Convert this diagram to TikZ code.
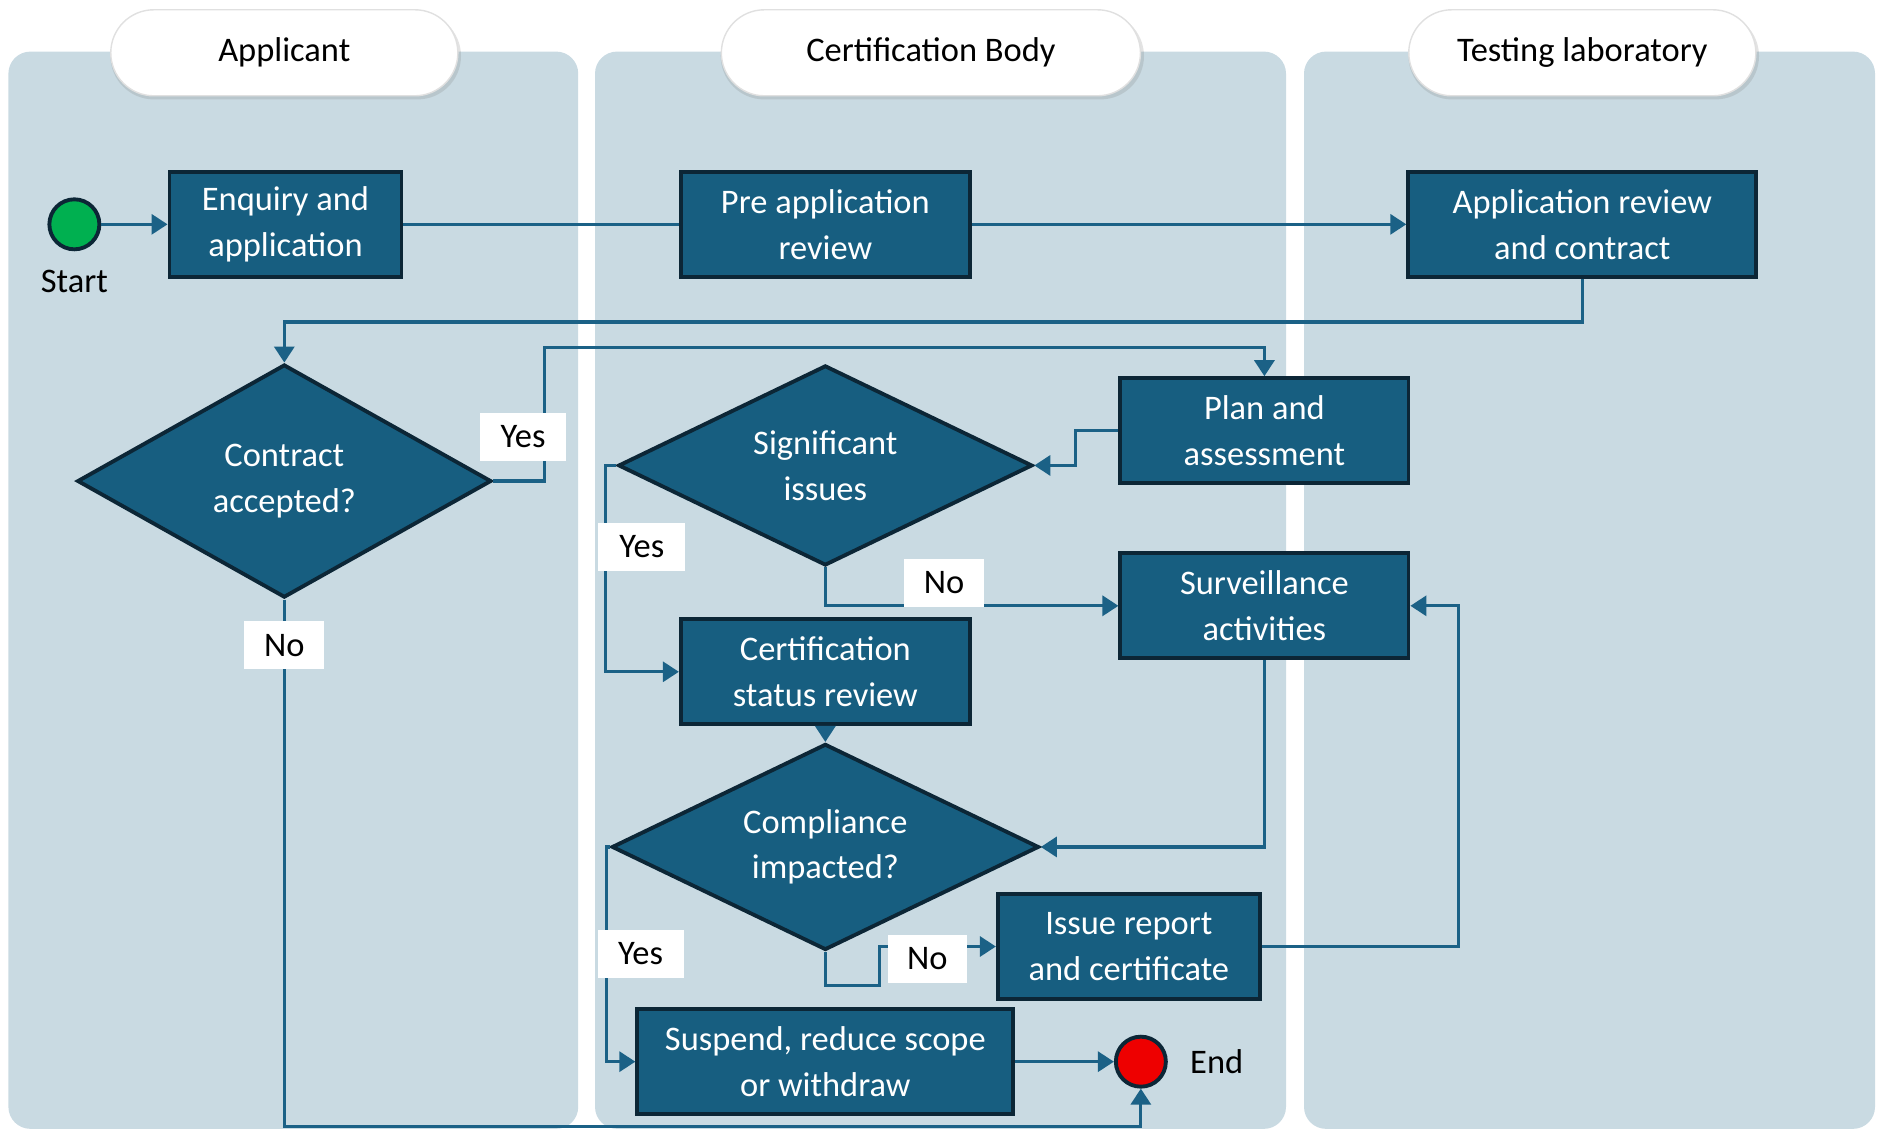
\documentclass[tikz,border=0pt]{standalone}
\usepackage{fontspec}
\setmainfont{Carlito}
\usepackage{tikz}
\usetikzlibrary{positioning,shapes,shadows,arrows.meta}
\definecolor{laneblue}{RGB}{201,218,226}
\definecolor{boxblue}{RGB}{23,94,128}
\definecolor{boxedge}{RGB}{12,38,54}
\definecolor{flowblue}{RGB}{27,97,134}
\definecolor{startgreen}{RGB}{0,176,80}
\definecolor{endred}{RGB}{238,0,0}

\begin{document}
\begin{tikzpicture}[x=0.012cm, y=-0.012cm, node distance=1cm]
	\tikzstyle{lane}=[fill=laneblue, rounded corners=0.22cm]
	\tikzstyle{header}=[rectangle, rounded corners=0.43cm, fill=white, draw=black!12, line width=0.4pt,
	minimum height=0.86cm, drop shadow={opacity=0.22, shadow xshift=0.4pt, shadow yshift=-0.9pt, shadow scale=1.01},
	text=black, font=\fontsize{9.8}{13}\selectfont]
	\tikzstyle{process}=[rectangle, draw=boxedge, line width=1.1pt, fill=boxblue, text=white,
	align=center, minimum height=1.05cm, font=\fontsize{9.8}{13}\selectfont]
	\tikzstyle{decision}=[diamond, aspect=2, draw=boxedge, line width=1.1pt, fill=boxblue, text=white,
	align=center, inner sep=0pt, font=\fontsize{9.8}{13}\selectfont]
	\tikzstyle{answer}=[rectangle, fill=white, text=black, minimum height=0.48cm,
	font=\fontsize{9.8}{13}\selectfont]
	\tikzstyle{terminal}=[circle, draw=boxedge, line width=1.1pt, minimum size=0.5cm, inner sep=0pt]
	\tikzstyle{line}=[draw=flowblue, line width=0.9pt]
	\tikzstyle{flow}=[line, -{Triangle[length=1.6mm, width=2mm]}]
	\useasboundingbox (0,0) rectangle (1568,943);
	
	\fill[lane] (7,43) rectangle (482,941);
	\fill[lane] (496,43) rectangle (1072,941);
	\fill[lane] (1087,43) rectangle (1563,941);
	
	\node (Applicant) [header, minimum width=3.47cm] at (237,44) {Applicant};
	\node (CertBody) [header, minimum width=4.19cm] at (776,44) {Certification Body};
	\node (TestLab) [header, minimum width=3.47cm] at (1319,44) {Testing laboratory};
	
	\node (Start) [terminal, fill=startgreen] at (62,187) {};
	\node (StartText) [below=0.06cm of Start, font=\fontsize{9.8}{13}\selectfont] {Start};
	\node (Enquiry) [process, minimum width=2.32cm] at (238,187) {Enquiry and\\application};
	\node (PreApp) [process, minimum width=2.89cm] at (688,187) {Pre application\\review};
	\node (AppReview) [process, minimum width=3.48cm] at (1319,187) {Application review\\and contract};
	
	\node (Contract) [decision, minimum width=4.14cm, minimum height=2.33cm] at (237,401) {Contract\\accepted?};
	\node (Significant) [decision, minimum width=4.14cm, minimum height=2.0cm] at (688,388) {Significant\\issues};
	\node (Plan) [process, minimum width=2.88cm] at (1054,359) {Plan and\\assessment};
	\node (Surveillance) [process, minimum width=2.88cm] at (1054,505) {Surveillance\\activities};
	\node (CertStatus) [process, minimum width=2.89cm] at (688,560) {Certification\\status review};
	\node (Compliance) [decision, minimum width=4.27cm, minimum height=2.06cm] at (688,706) {Compliance\\impacted?};
	\node (Issue) [process, minimum width=2.62cm] at (941,789) {Issue report\\and certificate};
	\node (Suspend) [process, minimum width=3.76cm] at (688,885) {Suspend, reduce scope\\or withdraw};
	\node (End) [terminal, fill=endred] at (951,885) {};
	\node (EndText) [right=0.1cm of End, font=\fontsize{9.8}{13}\selectfont] {End};
	
	\draw[flow] (Start) -- (Enquiry);
	\draw[line] (Enquiry.east) -- (PreApp.west);
	\draw[flow] (PreApp) -- (AppReview);
	\draw[flow] (AppReview.south) -- ++(0,36) -| (Contract.north);
	\draw[flow] (Contract.east) -- ++(43,0) -- ++(0,-111) -| (Plan.north);
	\draw[flow] (Plan.west) -- ++(-36,0) |- (Significant.east);
	\draw[flow] (Significant.west) -- ++(-9,0) |- (CertStatus.west);
	\draw[flow] (Significant.south) |- (Surveillance.west);
	\draw[flow] (CertStatus) -- (Compliance);
	\draw[flow] (Surveillance.south) |- (Compliance.east);
	\draw[flow] (Compliance.west) -- ++(-3,0) |- (Suspend.west);
	\draw[flow] (Compliance.south) -- ++(0,28) -- ++(45,0) |- (Issue.west);
	\draw[flow] (Issue.east) -- ++(164,0) |- (Surveillance.east);
	\draw[flow] (Suspend) -- (End);
	\draw[flow] (Contract.south) -- ++(0,439) -| (End.south);
	
	\node (YesContract) [answer, minimum width=0.86cm] at (436,364) {Yes};
	\node (NoContract) [answer, minimum width=0.8cm] at (237,538) {No};
	\node (YesSignificant) [answer, minimum width=0.87cm] at (535,456) {Yes};
	\node (NoSignificant) [answer, minimum width=0.8cm] at (787,486) {No};
	\node (YesCompliance) [answer, minimum width=0.86cm] at (534,795) {Yes};
	\node (NoCompliance) [answer, minimum width=0.79cm] at (773,799) {No};
\end{tikzpicture}
\end{document}
